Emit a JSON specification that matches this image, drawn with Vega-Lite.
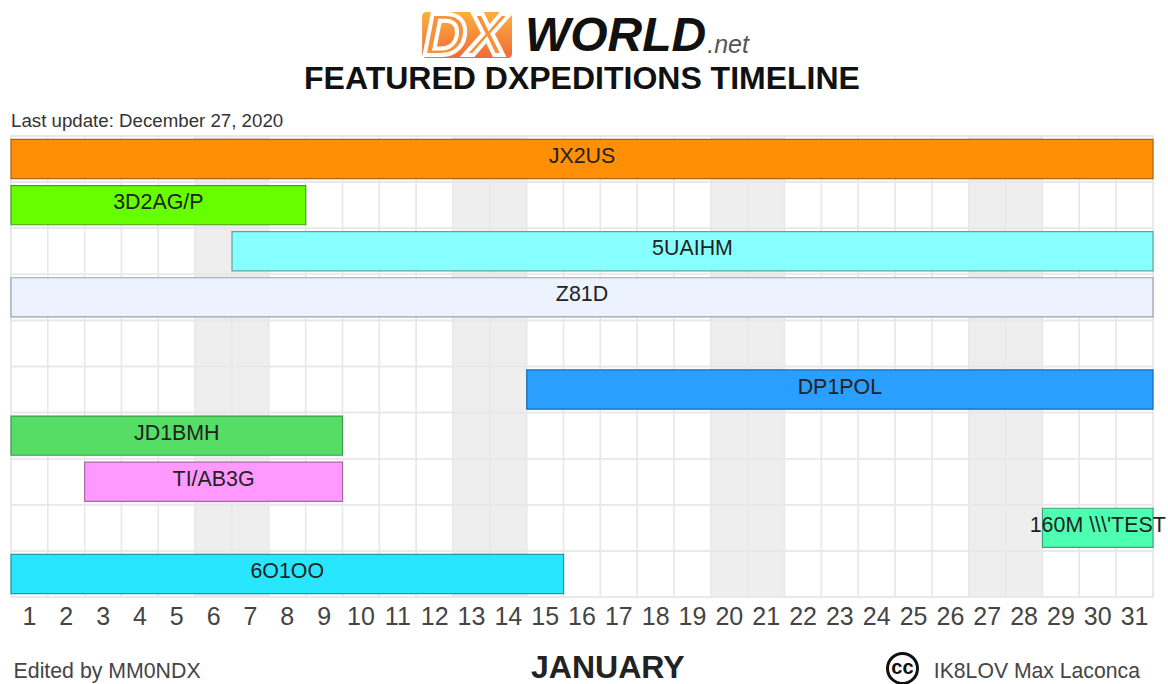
{
"$schema":"https://vega.github.io/schema/vega-lite/v6.json",
"width":1142,"height":461,
"autosize":"none",
"padding":{"left":11,"top":136,"right":15,"bottom":87},
"background":"white",
"config":{"view":{"stroke":null},"font":"Liberation Sans"},
"resolve":{"scale":{"x":"independent","y":"independent","fill":"independent"},"axis":{"x":"independent","y":"independent"}},
"layer":[
{"data":{"values":[{"day":1,"kind":"weekday"},{"day":2,"kind":"weekday"},{"day":3,"kind":"weekday"},{"day":4,"kind":"weekday"},{"day":5,"kind":"weekday"},{"day":6,"kind":"weekend"},{"day":7,"kind":"weekend"},{"day":8,"kind":"weekday"},{"day":9,"kind":"weekday"},{"day":10,"kind":"weekday"},{"day":11,"kind":"weekday"},{"day":12,"kind":"weekday"},{"day":13,"kind":"weekend"},{"day":14,"kind":"weekend"},{"day":15,"kind":"weekday"},{"day":16,"kind":"weekday"},{"day":17,"kind":"weekday"},{"day":18,"kind":"weekday"},{"day":19,"kind":"weekday"},{"day":20,"kind":"weekend"},{"day":21,"kind":"weekend"},{"day":22,"kind":"weekday"},{"day":23,"kind":"weekday"},{"day":24,"kind":"weekday"},{"day":25,"kind":"weekday"},{"day":26,"kind":"weekday"},{"day":27,"kind":"weekend"},{"day":28,"kind":"weekend"},{"day":29,"kind":"weekday"},{"day":30,"kind":"weekday"},{"day":31,"kind":"weekday"}]},
"mark":{"type":"rect","stroke":"#e8e8e8","strokeWidth":1.5},
"encoding":{"fill":{"field":"kind","type":"nominal","legend":null,"scale":{"domain":["weekday","weekend"],"range":["#ffffff","#eeeeee"]}},
"x":{"field":"day","type":"ordinal","scale":{"domain":[1,2,3,4,5,6,7,8,9,10,11,12,13,14,15,16,17,18,19,20,21,22,23,24,25,26,27,28,29,30,31],"paddingInner":0,"paddingOuter":0,"round":false},
"axis":{"orient":"bottom","labelAngle":0,"labelFont":"Liberation Sans","labelFontSize":25,"labelColor":"#444444","labelPadding":7,"ticks":false,"domain":false,"grid":false,"title":null}}}},
{"data":{"values":[{"row":"JX2US"},{"row":"3D2AG/P"},{"row":"5UAIHM"},{"row":"Z81D"},{"row":" "},{"row":"DP1POL"},{"row":"JD1BMH"},{"row":"TI/AB3G"},{"row":"160M \\\\\\'TEST"},{"row":"6O1OO"}]},
"mark":{"type":"rect","fill":"transparent","stroke":"#e8e8e8","strokeWidth":1.5},
"encoding":{"y":{"field":"row","type":"nominal","scale":{"domain":["JX2US","3D2AG/P","5UAIHM","Z81D"," ","DP1POL","JD1BMH","TI/AB3G","160M \\\\\\'TEST","6O1OO"],"paddingInner":0,"paddingOuter":0,"round":false},"axis":null}}},
{"data":{"values":[
{"call":"JX2US","start":1,"end":32,"mid":16.5},
{"call":"3D2AG/P","start":1,"end":9,"mid":5},
{"call":"5UAIHM","start":7,"end":32,"mid":19.5},
{"call":"Z81D","start":1,"end":32,"mid":16.5},
{"call":"DP1POL","start":15,"end":32,"mid":23.5},
{"call":"JD1BMH","start":1,"end":10,"mid":5.5},
{"call":"TI/AB3G","start":3,"end":10,"mid":6.5},
{"call":"160M \\\\\\'TEST","start":29,"end":32,"mid":30.5},
{"call":"6O1OO","start":1,"end":16,"mid":8.5}
]},
"encoding":{"y":{"field":"call","type":"nominal","scale":{"domain":["JX2US","3D2AG/P","5UAIHM","Z81D"," ","DP1POL","JD1BMH","TI/AB3G","160M \\\\\\'TEST","6O1OO"],"paddingInner":0.15,"paddingOuter":0.075,"round":false},"axis":null}},
"layer":[
{"mark":{"type":"bar","strokeWidth":1.2,"clip":false},
"encoding":{"x":{"field":"start","type":"quantitative","scale":{"domain":[1,32],"nice":false,"zero":false},"axis":null},"x2":{"field":"end"},
"fill":{"field":"call","type":"nominal","legend":null,"scale":{"domain":["JX2US","3D2AG/P","5UAIHM","Z81D","DP1POL","JD1BMH","TI/AB3G","160M \\\\\\'TEST","6O1OO"],"range":["#ff9005","#66ff00","#88ffff","#ecf3ff","#2a9fff","#55dd66","#ff99ff","#4dffb0","#29e6ff"]}},
"stroke":{"field":"call","type":"nominal","legend":null,"scale":{"domain":["JX2US","3D2AG/P","5UAIHM","Z81D","DP1POL","JD1BMH","TI/AB3G","160M \\\\\\'TEST","6O1OO"],"range":["#a8661a","#4aa01a","#5aa5a5","#9aa0b0","#1f6ab0","#3f9a4c","#a56aa5","#3aa57a","#1f98a8"]}}}},
{"mark":{"type":"text","font":"Liberation Sans","fontSize":21.4,"color":"#222222","dy":-2,"clip":false},
"encoding":{"x":{"field":"mid","type":"quantitative","scale":{"domain":[1,32],"nice":false,"zero":false},"axis":null},"text":{"field":"call"}}}
]},
{"data":{"values":[{"label":"Last update: December 27, 2020"}]},"mark":{"type":"text","align":"left","font":"Liberation Sans","fontSize":18.7,"color":"#333333"},"encoding":{"x":{"datum":1,"type":"quantitative","scale":{"domain":[1,32],"nice":false,"zero":false},"axis":null},"y":{"datum":-0.33,"type":"quantitative","scale":{"domain":[0,10],"reverse":true,"nice":false,"zero":false},"axis":null},"text":{"field":"label"}}},
{"data":{"values":[{"label":"Edited by MM0NDX"}]},"mark":{"type":"text","align":"left","font":"Liberation Sans","fontSize":21.3,"color":"#444444"},"encoding":{"x":{"datum":1.07,"type":"quantitative","scale":{"domain":[1,32],"nice":false,"zero":false},"axis":null},"y":{"datum":11.63,"type":"quantitative","scale":{"domain":[0,10],"reverse":true,"nice":false,"zero":false},"axis":null},"text":{"field":"label"}}},
{"data":{"values":[{"label":"JANUARY"}]},"mark":{"type":"text","font":"Liberation Sans","fontWeight":"bold","fontSize":32,"color":"#222222"},"encoding":{"x":{"datum":17.2,"type":"quantitative","scale":{"domain":[1,32],"nice":false,"zero":false},"axis":null},"y":{"datum":11.53,"type":"quantitative","scale":{"domain":[0,10],"reverse":true,"nice":false,"zero":false},"axis":null},"text":{"field":"label"}}},
{"data":{"values":[{"label":"IK8LOV Max Laconca"}]},"mark":{"type":"text","align":"left","font":"Liberation Sans","fontSize":21.2,"color":"#444444"},"encoding":{"x":{"datum":26.05,"type":"quantitative","scale":{"domain":[1,32],"nice":false,"zero":false},"axis":null},"y":{"datum":11.63,"type":"quantitative","scale":{"domain":[0,10],"reverse":true,"nice":false,"zero":false},"axis":null},"text":{"field":"label"}}},
{"data":{"values":[{"label":"cc"}]},"mark":{"type":"point","filled":false,"size":900,"stroke":"#111111","strokeWidth":3,"opacity":1},"encoding":{"x":{"datum":25.2,"type":"quantitative","scale":{"domain":[1,32],"nice":false,"zero":false},"axis":null},"y":{"datum":11.55,"type":"quantitative","scale":{"domain":[0,10],"reverse":true,"nice":false,"zero":false},"axis":null}}},
{"data":{"values":[{"label":"cc"}]},"mark":{"type":"text","font":"Liberation Sans","fontWeight":"bold","fontSize":20,"color":"#111111"},"encoding":{"x":{"datum":25.2,"type":"quantitative","scale":{"domain":[1,32],"nice":false,"zero":false},"axis":null},"y":{"datum":11.55,"type":"quantitative","scale":{"domain":[0,10],"reverse":true,"nice":false,"zero":false},"axis":null},"text":{"field":"label"}}},
{"data":{"values":[{"label":"logo"}]},"mark":{"type":"rect","cornerRadius":4,"fill":{"x1":0,"y1":0,"x2":0,"y2":1,"gradient":"linear","stops":[{"offset":0,"color":"#fbb03b"},{"offset":1,"color":"#f26a3a"}]}},"encoding":{"x":{"datum":12.16,"type":"quantitative","scale":{"domain":[1,32],"nice":false,"zero":false},"axis":null},"x2":{"datum":14.6},"y":{"datum":-2.69,"type":"quantitative","scale":{"domain":[0,10],"reverse":true,"nice":false,"zero":false},"axis":null},"y2":{"datum":-1.69}}},
{"data":{"values":[{"label":"DX"}]},"mark":{"type":"text","align":"left","font":"Liberation Sans","fontWeight":"bold","fontStyle":"italic","fontSize":60,"color":"#f7923a","stroke":"#ffffff","strokeWidth":4},"encoding":{"x":{"datum":12.2,"type":"quantitative","scale":{"domain":[1,32],"nice":false,"zero":false},"axis":null},"y":{"datum":-2.15,"type":"quantitative","scale":{"domain":[0,10],"reverse":true,"nice":false,"zero":false},"axis":null},"text":{"field":"label"}}},
{"data":{"values":[{"label":"WORLD"}]},"mark":{"type":"text","align":"left","font":"Liberation Sans","fontWeight":"bold","fontStyle":"italic","fontSize":48,"color":"#111111"},"encoding":{"x":{"datum":14.95,"type":"quantitative","scale":{"domain":[1,32],"nice":false,"zero":false},"axis":null},"y":{"datum":-2.15,"type":"quantitative","scale":{"domain":[0,10],"reverse":true,"nice":false,"zero":false},"axis":null},"text":{"field":"label"}}},
{"data":{"values":[{"label":".net"}]},"mark":{"type":"text","align":"left","font":"Liberation Sans","fontStyle":"italic","fontSize":25,"color":"#555555"},"encoding":{"x":{"datum":19.9,"type":"quantitative","scale":{"domain":[1,32],"nice":false,"zero":false},"axis":null},"y":{"datum":-1.97,"type":"quantitative","scale":{"domain":[0,10],"reverse":true,"nice":false,"zero":false},"axis":null},"text":{"field":"label"}}},
{"data":{"values":[{"label":"FEATURED DXPEDITIONS TIMELINE"}]},"mark":{"type":"text","font":"Liberation Sans","fontWeight":"bold","fontSize":32,"color":"#111111"},"encoding":{"x":{"datum":16.5,"type":"quantitative","scale":{"domain":[1,32],"nice":false,"zero":false},"axis":null},"y":{"datum":-1.23,"type":"quantitative","scale":{"domain":[0,10],"reverse":true,"nice":false,"zero":false},"axis":null},"text":{"field":"label"}}}
]}
